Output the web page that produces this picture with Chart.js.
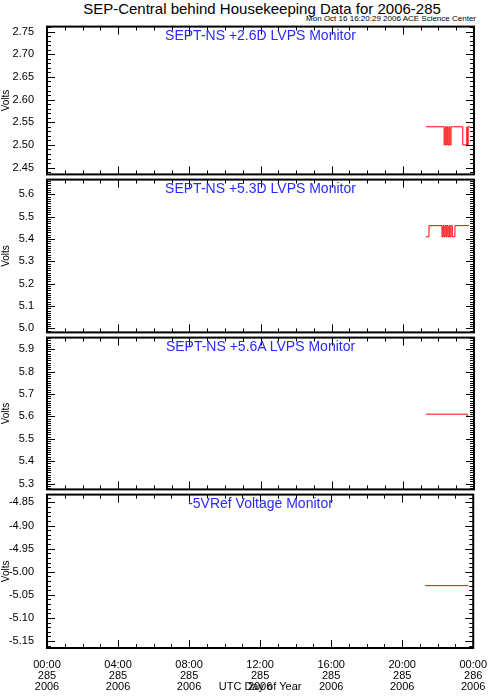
<!DOCTYPE html>
<html>
<head>
<meta charset="utf-8">
<script src="https://cdn.jsdelivr.net/npm/chart.js@4.4.0/dist/chart.umd.min.js"></script>
<style>
  body { margin: 0; background: #fff; width: 490px; height: 699px; position: relative; overflow: hidden; font-family: "Liberation Sans", Arial, sans-serif; }
  canvas { position: absolute; left: 0; }
  .txt { position: absolute; white-space: nowrap; color: #000; }
  #title { top: 0; left: 0; width: 524px; text-align: center; font-size: 15px; }
  #stamp { top: 14px; right: 14px; font-size: 8px; }
  .ptitle { position: absolute; left: 47px; width: 427px; text-align: center; font-size: 14px; color: #2a2aff; }
</style>
</head>
<body>
<div id="title" class="txt">SEP-Central behind Housekeeping Data for 2006-285</div>
<div id="stamp" class="txt">Mon Oct 16 16:20:29 2006 ACE Science Center</div>

<canvas id="c1" width="490" height="171"></canvas>
<canvas id="c2" width="490" height="176"></canvas>
<canvas id="c3" width="490" height="175"></canvas>
<canvas id="c4" width="490" height="215"></canvas>

<script>
// x axis (hours of day 285)
const xTickHours = [0, 4, 8, 12, 16, 20, 24];
const xTickTime = ["00:00", "04:00", "08:00", "12:00", "16:00", "20:00", "00:00"];
const xTickDay = ["285", "285", "285", "285", "285", "285", "286"];
const xTickYear = ["2006", "2006", "2006", "2006", "2006", "2006", "2006"];

// panel titles
const panelTitles = [
  "SEPT-NS +2.6D LVPS Monitor",
  "SEPT-NS +5.3D LVPS Monitor",
  "SEPT-NS +5.6A LVPS Monitor",
  "-5VRef Voltage Monitor",
];

// +2.6D LVPS
const t26 = [21.30, 22.32, 22.38, 22.43, 22.49, 22.54, 22.60, 22.65, 22.71, 22.77, 23.37, 23.60, 23.62, 23.67, 23.78];
const v26 = [2.54, 2.50, 2.54, 2.50, 2.54, 2.50, 2.54, 2.50, 2.54, 2.54, 2.50, 2.54, 2.50, 2.54, 2.54];
const yTicks26 = [2.45, 2.50, 2.55, 2.60, 2.65, 2.70, 2.75];

// +5.3D LVPS
const t53 = [21.30, 21.47, 22.20, 22.26, 22.31, 22.37, 22.43, 22.48, 22.54, 22.60, 22.65, 22.71, 22.78, 22.88, 22.93, 23.72];
const v53 = [5.41, 5.46, 5.41, 5.46, 5.41, 5.46, 5.41, 5.46, 5.41, 5.46, 5.41, 5.46, 5.41, 5.41, 5.46, 5.46];
const yTicks53 = [5.0, 5.1, 5.2, 5.3, 5.4, 5.5, 5.6];

// +5.6A LVPS
const t56 = [21.30, 23.62, 23.72];
const v56 = [5.61, 5.60, 5.60];
const yTicks56 = [5.3, 5.4, 5.5, 5.6, 5.7, 5.8, 5.9];

// -5V reference
const tRef = [21.30, 23.72];
const vRef = [-5.03, -5.03];
const yTicksRef = [-5.15, -5.10, -5.05, -5.00, -4.95, -4.90, -4.85];

const fontFam = "'Liberation Sans', Arial, sans-serif";

// box with inward major/minor ticks on all four sides, like the IDL plots
const frameTicks = {
  id: "frameTicks",
  afterDraw(chart, args, opts) {
    const { ctx, chartArea: a, scales } = chart;
    const x = scales.x, y = scales.y;
    ctx.save();
    ctx.strokeStyle = "#000";
    ctx.lineWidth = 1;
    ctx.beginPath();
    const hline = (py, len) => {
      py = Math.round(py) + 0.5;
      ctx.moveTo(a.left, py); ctx.lineTo(a.left + len, py);
      ctx.moveTo(a.right, py); ctx.lineTo(a.right - len, py);
    };
    const vline = (px, len) => {
      px = Math.round(px) + 0.5;
      ctx.moveTo(px, a.bottom); ctx.lineTo(px, a.bottom - len);
      ctx.moveTo(px, a.top); ctx.lineTo(px, a.top + len);
    };
    const ys = opts.yMinor;
    for (let k = Math.ceil(y.min / ys - 1e-6); k * ys <= y.max + 1e-9; k++) hline(y.getPixelForValue(k * ys), 4);
    opts.yMajor.forEach((v) => hline(y.getPixelForValue(v), 8));
    for (let h = 0; h <= 24; h++) vline(x.getPixelForValue(h), 4);
    xTickHours.forEach((h) => vline(x.getPixelForValue(h), 8));
    ctx.stroke();
    ctx.lineWidth = 2;
    ctx.strokeRect(a.left, a.top, a.right - a.left, a.bottom - a.top);
    ctx.restore();
  },
};

function makePanel(id, times, values, yTicks, yMin, yMax, yMinor, dec, bottom) {
  const xScale = bottom
    ? {
        type: "linear",
        min: 0,
        max: 24,
        afterBuildTicks: (s) => { s.ticks = xTickHours.map((v) => ({ value: v })); },
        afterFit: (s) => { s.height = 50; },
        grid: { display: false },
        border: { display: false },
        ticks: {
          autoSkip: false,
          maxRotation: 0,
          padding: 3,
          color: "#000",
          font: { family: fontFam, size: 11, lineHeight: 1.0 },
          callback: (v) => {
            const i = xTickHours.indexOf(v);
            return [xTickTime[i], xTickDay[i], xTickYear[i]];
          },
        },
        title: {
          display: true,
          text: "UTC Day of Year",
          color: "#000",
          font: { family: fontFam, size: 11 },
          padding: { top: 0, bottom: 4 },
        },
      }
    : { type: "linear", min: 0, max: 24, display: false };

  return new Chart(document.getElementById(id), {
    type: "line",
    data: {
      datasets: [
        {
          data: times.map((t, i) => ({ x: t, y: values[i] })),
          borderColor: "#ff0000",
          borderWidth: 1,
          pointRadius: 0,
          stepped: true,
          fill: false,
        },
      ],
    },
    options: {
      responsive: false,
      animation: false,
      events: [],
      layout: { padding: { top: 10, bottom: bottom ? 0 : 10, left: 0, right: 16 } },
      plugins: {
        legend: { display: false },
        tooltip: { enabled: false },
        frameTicks: { yMajor: yTicks, yMinor: yMinor },
      },
      scales: {
        x: xScale,
        y: {
          type: "linear",
          min: yMin,
          max: yMax,
          afterBuildTicks: (s) => { s.ticks = yTicks.map((v) => ({ value: v })); },
          afterFit: (s) => { s.width = 47; },
          grid: { display: false },
          border: { display: false },
          ticks: {
            autoSkip: false,
            padding: 5,
            color: "#000",
            font: { family: fontFam, size: 11 },
            callback: (v) => Number(v).toFixed(dec),
          },
          title: {
            display: true,
            text: "Volts",
            color: "#000",
            font: { family: fontFam, size: 10 },
            padding: { top: 0, bottom: 2 },
          },
        },
      },
    },
    plugins: [frameTicks],
  });
}

// panel placement: [canvas id, plot top, plot bottom]
const panels = [
  ["c1", 25, 176],
  ["c2", 178, 334],
  ["c3", 336, 491],
  ["c4", 493, 648],
];
panels.forEach(([id, top], i) => {
  document.getElementById(id).style.top = top - 10 + "px";
  const d = document.createElement("div");
  d.className = "ptitle";
  d.style.top = top + 2 + "px";
  d.textContent = panelTitles[i];
  document.body.appendChild(d);
});

makePanel("c1", t26, v26, yTicks26, 2.435, 2.761, 0.01, 2, false);
makePanel("c2", t53, v53, yTicks53, 4.982, 5.666, 0.01, 1, false);
makePanel("c3", t56, v56, yTicks56, 5.274, 5.952, 0.01, 1, false);
makePanel("c4", tRef, vRef, yTicksRef, -5.165, -4.833, 0.01, 2, true);
</script>
</body>
</html>
